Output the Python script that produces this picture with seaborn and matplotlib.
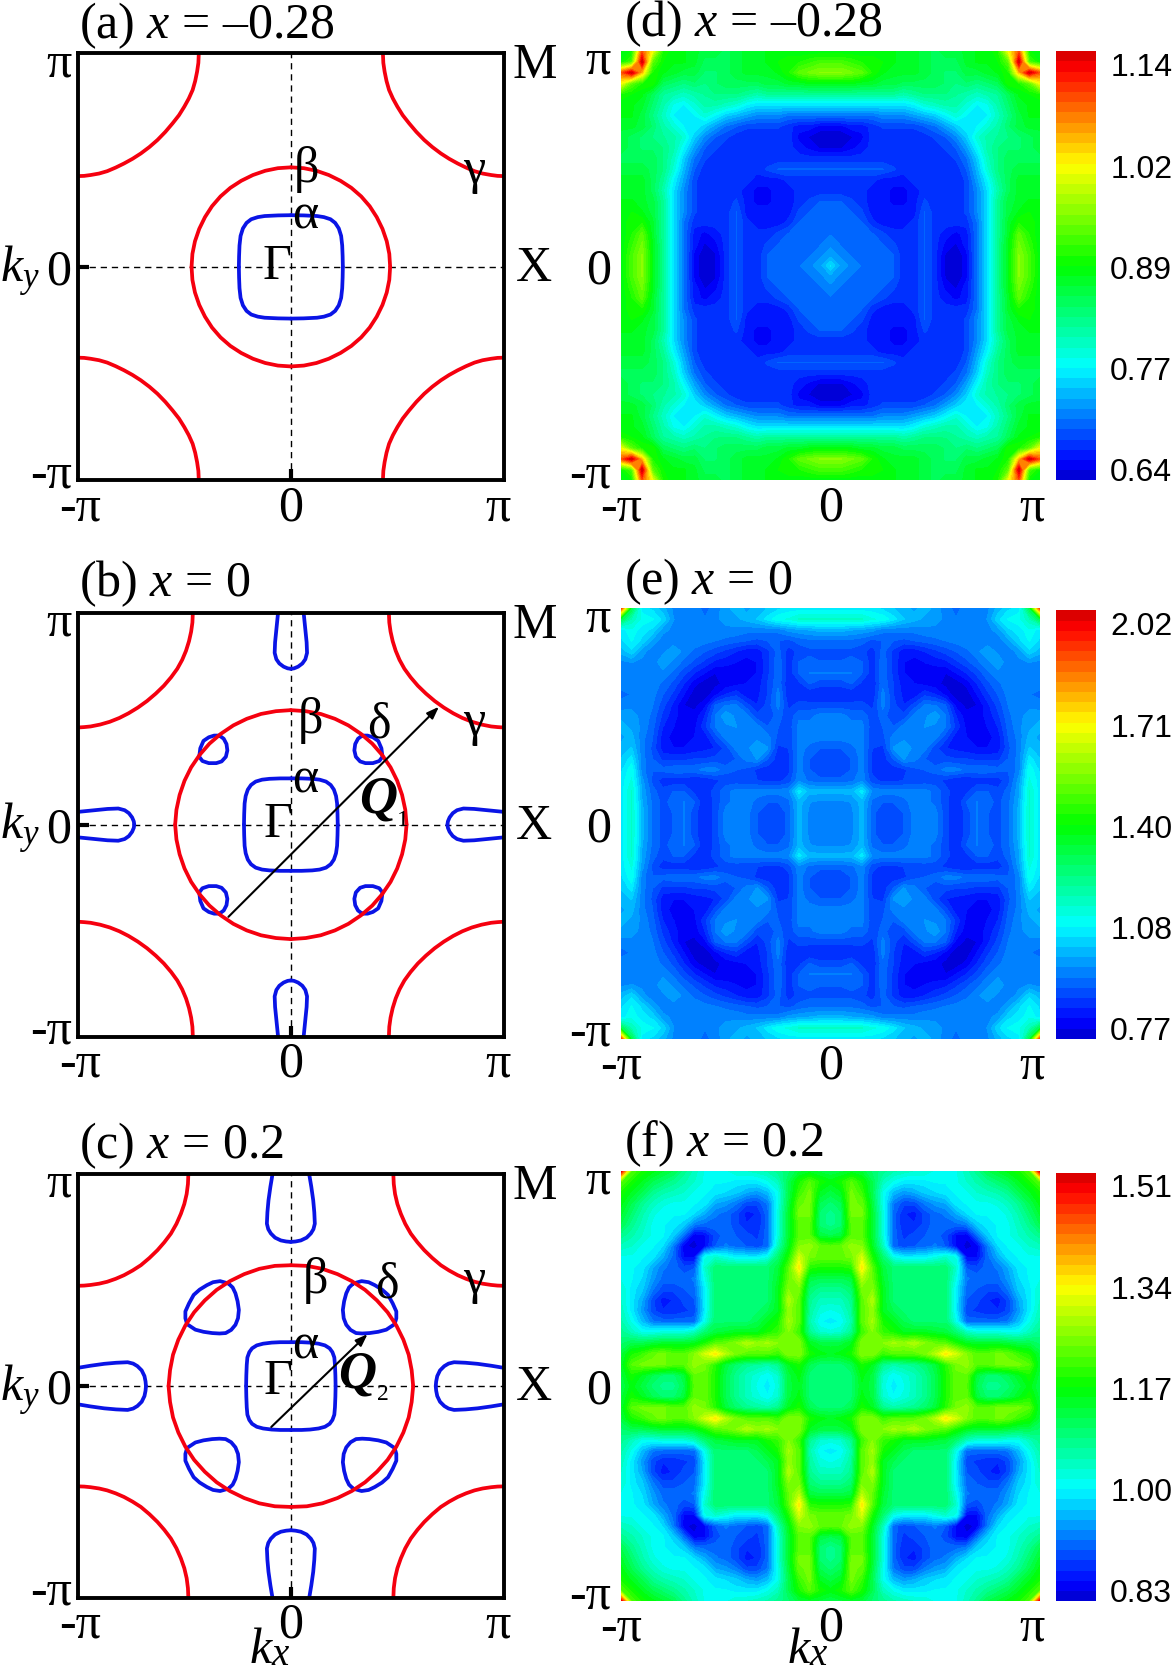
import numpy as np
import matplotlib
matplotlib.use("Agg")
import matplotlib.pyplot as plt
from matplotlib.colors import LinearSegmentedColormap
from matplotlib.transforms import ScaledTranslation
import seaborn as sns

# Fermi surface arcs, first quadrant only, in units of pi (kx, ky)
GAMMA_A = [(0.432, 1.0), (0.434, 0.955), (0.44, 0.914), (0.449, 0.87), (0.461, 0.828), (0.479, 0.788), (0.50, 0.75),
           (0.525, 0.71), (0.555, 0.672), (0.589, 0.632), (0.626, 0.594), (0.664, 0.561), (0.704, 0.531),
           (0.743, 0.506), (0.783, 0.484), (0.822, 0.465), (0.862, 0.448), (0.90, 0.437), (0.94, 0.43),
           (0.97, 0.426), (1.0, 0.425)]
BETA_A = [(0.466, 0.0), (0.462, 0.061), (0.45, 0.12), (0.43, 0.178), (0.403, 0.233), (0.37, 0.284), (0.33, 0.33),
          (0.284, 0.37), (0.233, 0.403), (0.178, 0.43), (0.12, 0.45), (0.061, 0.462), (0.0, 0.466)]
ALPHA_A = [(0.244, 0.0), (0.243, 0.05), (0.241, 0.10), (0.236, 0.145), (0.225, 0.18), (0.208, 0.206), (0.186, 0.223),
           (0.155, 0.233), (0.123, 0.238), (0.06, 0.241), (0.0, 0.242)]

GAMMA_B = [(0.46, 1.0), (0.462, 0.953), (0.468, 0.91), (0.478, 0.865), (0.492, 0.82), (0.51, 0.777), (0.533, 0.735),
           (0.562, 0.695), (0.596, 0.655), (0.634, 0.618), (0.675, 0.583), (0.718, 0.552), (0.762, 0.525),
           (0.805, 0.503), (0.85, 0.485), (0.895, 0.472), (0.94, 0.463), (0.97, 0.46), (1.0, 0.458)]
BETA_B = [(0.543, 0.0), (0.537, 0.07), (0.522, 0.14), (0.499, 0.207), (0.468, 0.27), (0.428, 0.329), (0.382, 0.382),
          (0.329, 0.428), (0.27, 0.468), (0.207, 0.499), (0.14, 0.522), (0.07, 0.535), (0.0, 0.54)]
ALPHA_B = [(0.22, 0.0), (0.219, 0.05), (0.217, 0.10), (0.212, 0.135), (0.202, 0.165), (0.187, 0.187), (0.165, 0.203),
           (0.135, 0.212), (0.10, 0.216), (0.05, 0.218), (0.0, 0.218)]
DELTA_B = [(0.335, 0.42), (0.36, 0.42), (0.385, 0.412), (0.41, 0.395), (0.425, 0.36), (0.43, 0.32), (0.415, 0.30),
           (0.385, 0.29), (0.35, 0.29), (0.325, 0.298), (0.305, 0.32), (0.298, 0.35), (0.302, 0.38), (0.315, 0.405),
           (0.335, 0.42)]
POCKET_B = [(1.0, 0.06), (0.92, 0.068), (0.86, 0.074), (0.81, 0.076), (0.78, 0.068), (0.76, 0.054), (0.745, 0.034),
            (0.737, 0.015), (0.735, 0.0)]

GAMMA_C = [(0.481, 1.0), (0.483, 0.953), (0.489, 0.906), (0.50, 0.859), (0.516, 0.813), (0.537, 0.765), (0.563, 0.719),
           (0.594, 0.678), (0.626, 0.641), (0.664, 0.604), (0.704, 0.57), (0.743, 0.545), (0.783, 0.523),
           (0.822, 0.506), (0.862, 0.492), (0.90, 0.483), (0.94, 0.477), (0.97, 0.474), (1.0, 0.473)]
BETA_C = [(0.574, 0.0), (0.567, 0.075), (0.553, 0.148), (0.528, 0.219), (0.495, 0.286), (0.454, 0.348), (0.404, 0.404),
          (0.348, 0.454), (0.286, 0.495), (0.219, 0.528), (0.148, 0.553), (0.075, 0.567), (0.0, 0.57)]
ALPHA_C = [(0.21, 0.0), (0.209, 0.05), (0.207, 0.10), (0.204, 0.135), (0.195, 0.16), (0.182, 0.178), (0.16, 0.192),
           (0.13, 0.2), (0.09, 0.205), (0.05, 0.207), (0.0, 0.207)]
DELTA_C = [(0.293, 0.484), (0.332, 0.495), (0.365, 0.49), (0.394, 0.476), (0.428, 0.455), (0.456, 0.43), (0.478, 0.39),
           (0.495, 0.352), (0.495, 0.32), (0.487, 0.292), (0.448, 0.266), (0.41, 0.256), (0.369, 0.25), (0.335, 0.248),
           (0.306, 0.25), (0.28, 0.265), (0.26, 0.289), (0.248, 0.32), (0.244, 0.359), (0.25, 0.40), (0.26, 0.4375),
           (0.273, 0.465), (0.293, 0.484)]
POCKET_C = [(1.0, 0.086), (0.94, 0.096), (0.876, 0.105), (0.82, 0.11), (0.766, 0.1125), (0.74, 0.106), (0.72, 0.094),
            (0.70, 0.074), (0.687, 0.047), (0.682, 0.022), (0.68, 0.0)]

# Susceptibility on the irreducible wedge (hundredths); row i holds ky = i*0.05 pi, kx from i*0.05 pi to pi
CHI_D = [
    [76, 73, 72, 71, 70, 70, 70, 68, 68, 70, 68, 65, 64, 66, 71, 76, 82, 88, 95, 92, 88],
    [72, 71, 71, 70, 70, 70, 68, 68, 70, 68, 65, 64, 66, 71, 76, 82, 88, 95, 92, 88],
    [71, 70, 70, 70, 69, 68, 68, 70, 68, 66, 65, 67, 71, 76, 82, 88, 94, 91, 88],
    [70, 70, 69, 68, 68, 68, 70, 68, 67, 66, 67, 71, 76, 82, 87, 93, 90, 88],
    [68, 67, 67, 67, 68, 70, 68, 68, 68, 68, 71, 76, 82, 87, 90, 90, 88],
    [67, 67, 67, 67, 70, 68, 68, 68, 69, 72, 76, 82, 86, 88, 89, 88],
    [66, 66, 67, 69, 68, 68, 68, 69, 72, 76, 82, 86, 87, 88, 88],
    [66, 67, 68, 68, 68, 68, 69, 72, 76, 81, 85, 87, 87, 87],
    [68, 68, 68, 68, 68, 69, 73, 77, 82, 85, 87, 87, 87],
    [68, 68, 68, 68, 70, 74, 79, 83, 85, 86, 86, 86],
    [68, 68, 69, 71, 75, 80, 83, 85, 85, 85, 85],
    [69, 70, 73, 77, 81, 83, 84, 84, 85, 86],
    [72, 75, 79, 81, 82, 83, 84, 85, 86],
    [77, 77, 79, 81, 84, 86, 87, 87],
    [76, 77, 80, 83, 86, 88, 88],
    [78, 81, 84, 87, 88, 88],
    [82, 85, 88, 89, 90],
    [90, 90, 93, 100],
    [103, 114, 108],
    [92, 89],
    [88],
]
CHI_E = [
    [96, 96, 97, 102, 93, 89, 89, 92, 96, 96, 96, 90, 86, 90, 95, 92, 91, 94, 102, 116, 108],
    [96, 97, 102, 93, 89, 89, 92, 96, 96, 96, 90, 86, 90, 95, 92, 91, 94, 102, 116, 108],
    [98, 102, 94, 92, 92, 94, 96, 96, 94, 90, 86, 92, 95, 93, 91, 94, 101, 116, 108],
    [108, 97, 96, 96, 96, 96, 96, 94, 90, 87, 88, 92, 92, 90, 93, 100, 116, 108],
    [90, 88, 88, 89, 89, 90, 90, 88, 86, 86, 87, 87, 87, 91, 99, 113, 108],
    [87, 87, 88, 91, 92, 93, 96, 96, 94, 94, 94, 93, 92, 96, 112, 106],
    [92, 98, 96, 92, 90, 90, 89, 89, 88, 88, 88, 92, 96, 108, 104],
    [100, 97, 96, 90, 86, 85, 84, 83, 83, 84, 91, 96, 104, 102],
    [97, 95, 96, 90, 84, 83, 82, 82, 84, 92, 96, 102, 100],
    [98, 97, 95, 88, 82, 82, 83, 86, 93, 97, 100, 102],
    [100, 95, 86, 81, 81, 84, 88, 94, 97, 99, 100],
    [92, 82, 79, 80, 85, 90, 95, 97, 97, 96],
    [78, 78, 83, 88, 92, 96, 97, 95, 94],
    [81, 86, 91, 94, 97, 96, 96, 96],
    [90, 94, 97, 97, 96, 95, 95],
    [97, 100, 96, 97, 98, 97],
    [97, 96, 99, 106, 102],
    [100, 106, 110, 106],
    [108, 112, 108],
    [118, 130],
    [190],
]
CHI_F = [
    [110, 110, 110, 115, 113, 103, 100, 102, 105, 108, 112, 118, 123, 122, 112, 108, 108, 110, 113, 116, 112],
    [110, 110, 116, 113, 104, 101, 103, 105, 108, 112, 118, 123, 123, 113, 110, 110, 112, 115, 118, 113],
    [112, 118, 115, 108, 106, 107, 108, 110, 113, 119, 124, 126, 122, 122, 124, 124, 124, 122, 114],
    [125, 125, 120, 122, 122, 122, 124, 128, 134, 130, 125, 122, 122, 124, 123, 120, 118, 113],
    [125, 125, 127, 126, 128, 125, 123, 122, 118, 115, 114, 114, 114, 113, 112, 112, 110],
    [120, 118, 115, 115, 115, 114, 113, 110, 105, 103, 103, 103, 102, 102, 105, 108],
    [115, 112, 110, 110, 110, 110, 102, 92, 92, 92, 92, 93, 97, 102, 106],
    [110, 110, 110, 110, 110, 100, 90, 89, 88, 88, 90, 95, 100, 105],
    [109, 109, 109, 110, 100, 91, 90, 88, 87, 90, 96, 100, 104],
    [109, 110, 110, 100, 92, 91, 90, 90, 93, 98, 100, 104],
    [110, 110, 102, 93, 92, 92, 92, 95, 99, 101, 102],
    [110, 104, 91, 90, 92, 93, 96, 100, 101, 102],
    [102, 86, 86, 92, 96, 100, 101, 102, 102],
    [84, 85, 93, 99, 101, 102, 104, 105],
    [92, 98, 101, 102, 104, 106, 108],
    [100, 101, 102, 105, 108, 112],
    [101, 103, 106, 110, 114],
    [105, 108, 112, 116],
    [112, 115, 118],
    [118, 122],
    [150],
]
BAR_D = ["1.14", "1.02", "0.89", "0.77", "0.64"]
BAR_E = ["2.02", "1.71", "1.40", "1.08", "0.77"]
BAR_F = ["1.51", "1.34", "1.17", "1.00", "0.83"]
RANGE_D = (0.64, 1.14)
RANGE_E = (0.77, 2.02)
RANGE_F = (0.83, 1.51)
K_STEPS = np.arange(-20, 21) * 0.05

W, H = 1173, 1671
sns.set_theme(style="white")
plt.rcParams["font.family"] = ["Liberation Serif", "DejaVu Serif"]
plt.rcParams["mathtext.fontset"] = "custom"
plt.rcParams["mathtext.rm"] = "Liberation Serif"
plt.rcParams["mathtext.it"] = "Liberation Serif:italic"
plt.rcParams["mathtext.bf"] = "Liberation Serif:bold"
plt.rcParams["mathtext.bfit"] = "Liberation Serif:italic:bold"

BIG = 36
RED = "#f5000f"
BLUE = "#0a14e6"
jet_bands = LinearSegmentedColormap.from_list(
    "bands",
    [(0.0, "#0000d8"), (0.03, "#0000ff"), (0.26, "#00ffff"), (0.5, "#00ff00"),
     (0.74, "#ffff00"), (0.97, "#ff0000"), (1.0, "#dc0000")],
    N=42,
)

fig = plt.figure(figsize=(W / 100, H / 100), dpi=100, facecolor="white")


def px_axes(left, top, right, bottom):
    return fig.add_axes([left / W, 1 - bottom / H, (right - left) / W, (bottom - top) / H])


def px_text(x, y, s, **kw):
    fig.text(x / W, 1 - y / H, s, **kw)


def kx_label(x, baseline):
    px_text(x, baseline, "k", fontsize=BIG, style="italic", ha="right", va="baseline", color="black")
    px_text(x, baseline + 2, "x", fontsize=28, style="italic", ha="left", va="baseline", color="black")


def shift_labels(labels, offsets):
    for lab, (dx, dy) in zip(labels, offsets):
        lab.set_transform(lab.get_transform() + ScaledTranslation(dx / 100, dy / 100, fig.dpi_scale_trans))


def style_axis(ax, x_off, y_off):
    ax.set_xlim(-1, 1)
    ax.set_ylim(-1, 1)
    ax.set_xticks([-1, 0, 1], ["-π", "0", "π"])
    ax.set_yticks([-1, 0, 1], ["-π", "0", "π"])
    ax.xaxis.remove_overlapping_locs = False
    ax.yaxis.remove_overlapping_locs = False
    ax.set_xticks([0], minor=True)
    ax.set_yticks([0], minor=True)
    ax.tick_params(which="major", length=0, labelsize=BIG, pad=3, colors="black")
    ax.tick_params(which="minor", direction="in", length=8, width=3, color="black")
    ax.tick_params(which="both", bottom=True, left=True, top=False, right=False)
    shift_labels(ax.get_xticklabels(), x_off)
    shift_labels(ax.get_yticklabels(), y_off)


def quadrants(ax, pts, color, swap=False):
    xy = np.array(pts)
    if swap:
        xy = xy[:, ::-1]
    for sx in (1, -1):
        for sy in (1, -1):
            sns.lineplot(x=sx * xy[:, 0], y=sy * xy[:, 1], sort=False, estimator=None, ax=ax, color=color,
                         linewidth=2.7, solid_capstyle="round", solid_joinstyle="round")


def fermi_panel(box, title, title_xy, gamma, beta, alpha, delta=None, pocket=None, labels=(), arrow=None, wave=None):
    ax = px_axes(*box)
    ax.axhline(0, color="black", lw=1.0, dashes=(4.5, 3.5), zorder=1)
    ax.axvline(0, color="black", lw=1.0, dashes=(4.5, 3.5), zorder=1)
    if delta is not None:
        quadrants(ax, delta, BLUE)
        quadrants(ax, pocket, BLUE)
        quadrants(ax, pocket, BLUE, swap=True)
    quadrants(ax, alpha, BLUE)
    quadrants(ax, gamma, RED)
    quadrants(ax, beta, RED)
    style_axis(ax, [(2, 0), (0, 0), (-6, 0)], [(-2, 11), (-2, 0), (-2, -5)])
    for spine in ax.spines.values():
        spine.set_visible(True)
        spine.set_linewidth(2.8)
        spine.set_color("black")
    for s, x, y in labels:
        ax.text(x, y, s, fontsize=BIG, ha="center", va="center", color="black", clip_on=False, zorder=5)
    if wave is not None:
        ax.text(wave[1], wave[2], "Q", fontsize=BIG + 2, style="italic", weight="bold", ha="center", va="center",
                color="black", zorder=5)
        ax.text(wave[3], wave[4], wave[0], fontsize=17, ha="center", va="center", color="black", zorder=5)
    if arrow is not None:
        ax.annotate("", xy=arrow[1], xytext=arrow[0],
                    arrowprops=dict(arrowstyle="-|>,head_length=0.6,head_width=0.22", lw=1.5, color="black",
                                    shrinkA=0, shrinkB=0), zorder=6)
    px_text(title_xy[0], title_xy[1], title, fontsize=BIG, ha="left", va="baseline", color="black")
    return ax


def unfold(rows):
    n = len(rows)
    q = np.zeros((n, n))
    for i, row in enumerate(rows):
        q[i, i:] = row
        q[i:, i] = row
    q = q / 100
    z = np.vstack([q[:0:-1], q])
    return np.hstack([z[:, :0:-1], z])


def chi_panel(box, bar_box, title, title_xy, rows, value_range, bar_labels):
    ax = px_axes(*box)
    vmin, vmax = value_range
    ax.contourf(K_STEPS, K_STEPS, unfold(rows), levels=np.linspace(vmin, vmax, 43), cmap=jet_bands, extend="both")
    style_axis(ax, [(0, 0), (0, 0), (-8, 0)], [(-6, 11), (-6, 0), (-6, -5)])
    for spine in ax.spines.values():
        spine.set_visible(False)
    px_text(title_xy[0], title_xy[1], title, fontsize=BIG, ha="left", va="baseline", color="black")

    cax = px_axes(*bar_box)
    ramp = np.linspace(vmax, vmin, 42).reshape(-1, 1)
    sns.heatmap(ramp, ax=cax, cmap=jet_bands, vmin=vmin, vmax=vmax, cbar=False, xticklabels=False,
                yticklabels=False, linewidths=0)
    cax.set_xticks([])
    cax.set_yticks(np.array([0.03, 0.268, 0.504, 0.74, 0.975]) * 42, bar_labels, rotation=0,
                   fontfamily="Liberation Sans", fontsize=23)
    cax.yaxis.tick_right()
    cax.tick_params(axis="y", length=0, pad=10, right=False, left=False, colors="black")
    return ax


S = 1173 / 1101  # layout was measured on a 1101 px wide sheet
LEFT_X = (73 * S, 473 * S)
RIGHT_X = (583 * S, 976 * S)
BAR_X = (991 * S, 1029 * S)

fermi_panel((LEFT_X[0], 50 * S, LEFT_X[1], 451 * S), "(a) $x$ = –0.28", (74 * S, 36 * S),
            GAMMA_A, BETA_A, ALPHA_A,
            labels=[("β", 0.075, 0.455), ("α", 0.067, 0.235), ("Γ", -0.067, 0.0), ("γ", 0.86, 0.45),
                    ("M", 1.145, 0.94), ("X", 1.14, -0.01), ("$k_y$", -1.27, -0.02)])
fermi_panel((LEFT_X[0], 575 * S, LEFT_X[1], 973 * S), "(b) $x$ = 0", (74 * S, 560 * S),
            GAMMA_B, BETA_B, ALPHA_B, DELTA_B, POCKET_B,
            labels=[("β", 0.09, 0.49), ("δ", 0.414, 0.467), ("α", 0.067, 0.208), ("Γ", -0.062, 0.0),
                    ("γ", 0.86, 0.48), ("M", 1.145, 0.94), ("X", 1.14, -0.01), ("$k_y$", -1.27, -0.02)],
            arrow=((-0.293, -0.435), (0.695, 0.556)), wave=("1", 0.41, 0.12, 0.525, 0.02))
fermi_panel((LEFT_X[0], 1102 * S, LEFT_X[1], 1500 * S), "(c) $x$ = 0.2", (74 * S, 1087 * S),
            GAMMA_C, BETA_C, ALPHA_C, DELTA_C, POCKET_C,
            labels=[("β", 0.117, 0.5), ("δ", 0.452, 0.475), ("α", 0.067, 0.19), ("Γ", -0.062, 0.02),
                    ("γ", 0.86, 0.497), ("M", 1.145, 0.94), ("X", 1.14, -0.01), ("$k_y$", -1.27, -0.02)],
            arrow=((-0.092, -0.193), (0.36, 0.245)), wave=("2", 0.31, 0.055, 0.43, -0.04))
kx_label(255 * S, 1561 * S)

chi_panel((RIGHT_X[0], 48 * S, RIGHT_X[1], 451 * S), (BAR_X[0], 48 * S, BAR_X[1], 451 * S),
          "(d) $x$ = –0.28", (586 * S, 34 * S), CHI_D, RANGE_D, BAR_D)
chi_panel((RIGHT_X[0], 571 * S, RIGHT_X[1], 975 * S), (BAR_X[0], 573 * S, BAR_X[1], 975 * S),
          "(e) $x$ = 0", (586 * S, 558 * S), CHI_E, RANGE_E, BAR_E)
chi_panel((RIGHT_X[0], 1099 * S, RIGHT_X[1], 1503 * S), (BAR_X[0], 1101 * S, BAR_X[1], 1503 * S),
          "(f) $x$ = 0.2", (586 * S, 1085 * S), CHI_F, RANGE_F, BAR_F)
kx_label(760 * S, 1561 * S)

fig.savefig("out.png", dpi=100, facecolor="white")
